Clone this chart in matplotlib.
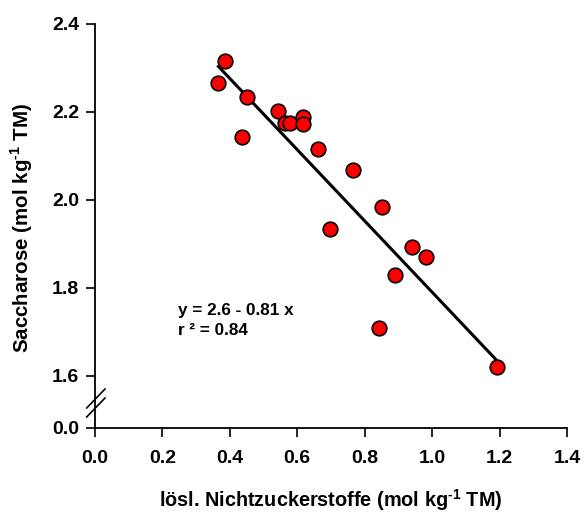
import matplotlib

matplotlib.use("Agg")
import matplotlib.pyplot as plt
from matplotlib.lines import Line2D
import numpy as np

plt.rcParams["font.family"] = ["Liberation Sans", "DejaVu Sans"]
plt.rcParams["font.weight"] = "bold"
plt.rcParams["mathtext.fontset"] = "custom"
plt.rcParams["mathtext.rm"] = "Liberation Sans:bold"
plt.rcParams["mathtext.bf"] = "Liberation Sans:bold"

# data
nichtzucker = [0.386, 0.366, 0.452, 0.435, 0.542, 0.564, 0.578, 0.618, 0.616,
               0.662, 0.766, 0.697, 0.850, 0.939, 0.982, 0.890, 0.842, 1.192]
saccharose = [2.316, 2.265, 2.233, 2.142, 2.202, 2.174, 2.174, 2.188, 2.173,
              2.115, 2.068, 1.934, 1.983, 1.892, 1.870, 1.828, 1.708, 1.619]
intercept, slope = 2.6, -0.81
x_ticks = [0.0, 0.2, 0.4, 0.6, 0.8, 1.0, 1.2, 1.4]
y_ticks = [1.6, 1.8, 2.0, 2.2, 2.4]

W, H = 587, 513
fig = plt.figure(figsize=(W / 100, H / 100), dpi=100)

px_per_unit = (375.7 - 24) / 0.8
left = 95 / W
width = (567 - 95) / W
ax = fig.add_axes([left, 1 - 400 / H, width, 376 / H])
ax_low = fig.add_axes([left, 1 - 428 / H, width, 28 / H])

ax.set_ylim(2.4 - 376 / px_per_unit, 2.4)
ax_low.set_ylim(0, 28 / px_per_unit)
for a in (ax, ax_low):
    a.set_xlim(0, 1.4)
    a.spines["right"].set_visible(False)
    a.spines["top"].set_visible(False)
    for s in ("left", "bottom"):
        a.spines[s].set_linewidth(1.3)
    a.tick_params(direction="out", length=6.5, width=1.2, labelsize=14, pad=5)
ax.spines["bottom"].set_visible(False)
ax.set_xticks([])
ax.set_yticks(y_ticks)
ax.set_yticklabels([f"{v:.1f}" for v in y_ticks])
ax_low.set_yticks([0.0])
ax_low.set_yticklabels(["0.0"])
ax_low.set_xticks(x_ticks)
ax_low.set_xticklabels([f"{v:.1f}" for v in x_ticks])
ax_low.tick_params(axis="x", pad=9)
ax.patch.set_visible(False)
ax_low.patch.set_visible(False)

# regression line
xl = np.array([min(nichtzucker), max(nichtzucker)])
ax.plot(xl, intercept + slope * xl, color="black", linewidth=2.2, zorder=2)

ax.plot(nichtzucker, saccharose, "o", markersize=10.5, markerfacecolor="#ff0000",
        markeredgecolor="black", markeredgewidth=1.2, zorder=3, clip_on=False)

ax.text(0.246, 1.738, "y = 2.6 - 0.81 x", fontsize=12.3, fontweight="bold")
ax.text(0.246, 1.692, "r ² = 0.84", fontsize=12.3, fontweight="bold")

ax_low.set_xlabel("lösl. Nichtzuckerstoffe (mol kg$^{\\text{-1}}$ TM)",
                  fontsize=14.3, fontweight="bold", labelpad=15)
fig.text(22 / W, 1 - 228 / H, "Saccharose (mol kg$^{\\text{-1}}$ TM)",
         rotation=90, ha="center", va="center", fontsize=14.8, fontweight="bold")

# break marks on the y axis
for dy in (0, -9):
    fig.add_artist(Line2D([86.7 / W, 105 / W],
                          [1 - (417 + dy) / H, 1 - (398 + dy) / H],
                          color="black", linewidth=1.2,
                          transform=fig.transFigure))

fig.savefig("out.png", dpi=100)
